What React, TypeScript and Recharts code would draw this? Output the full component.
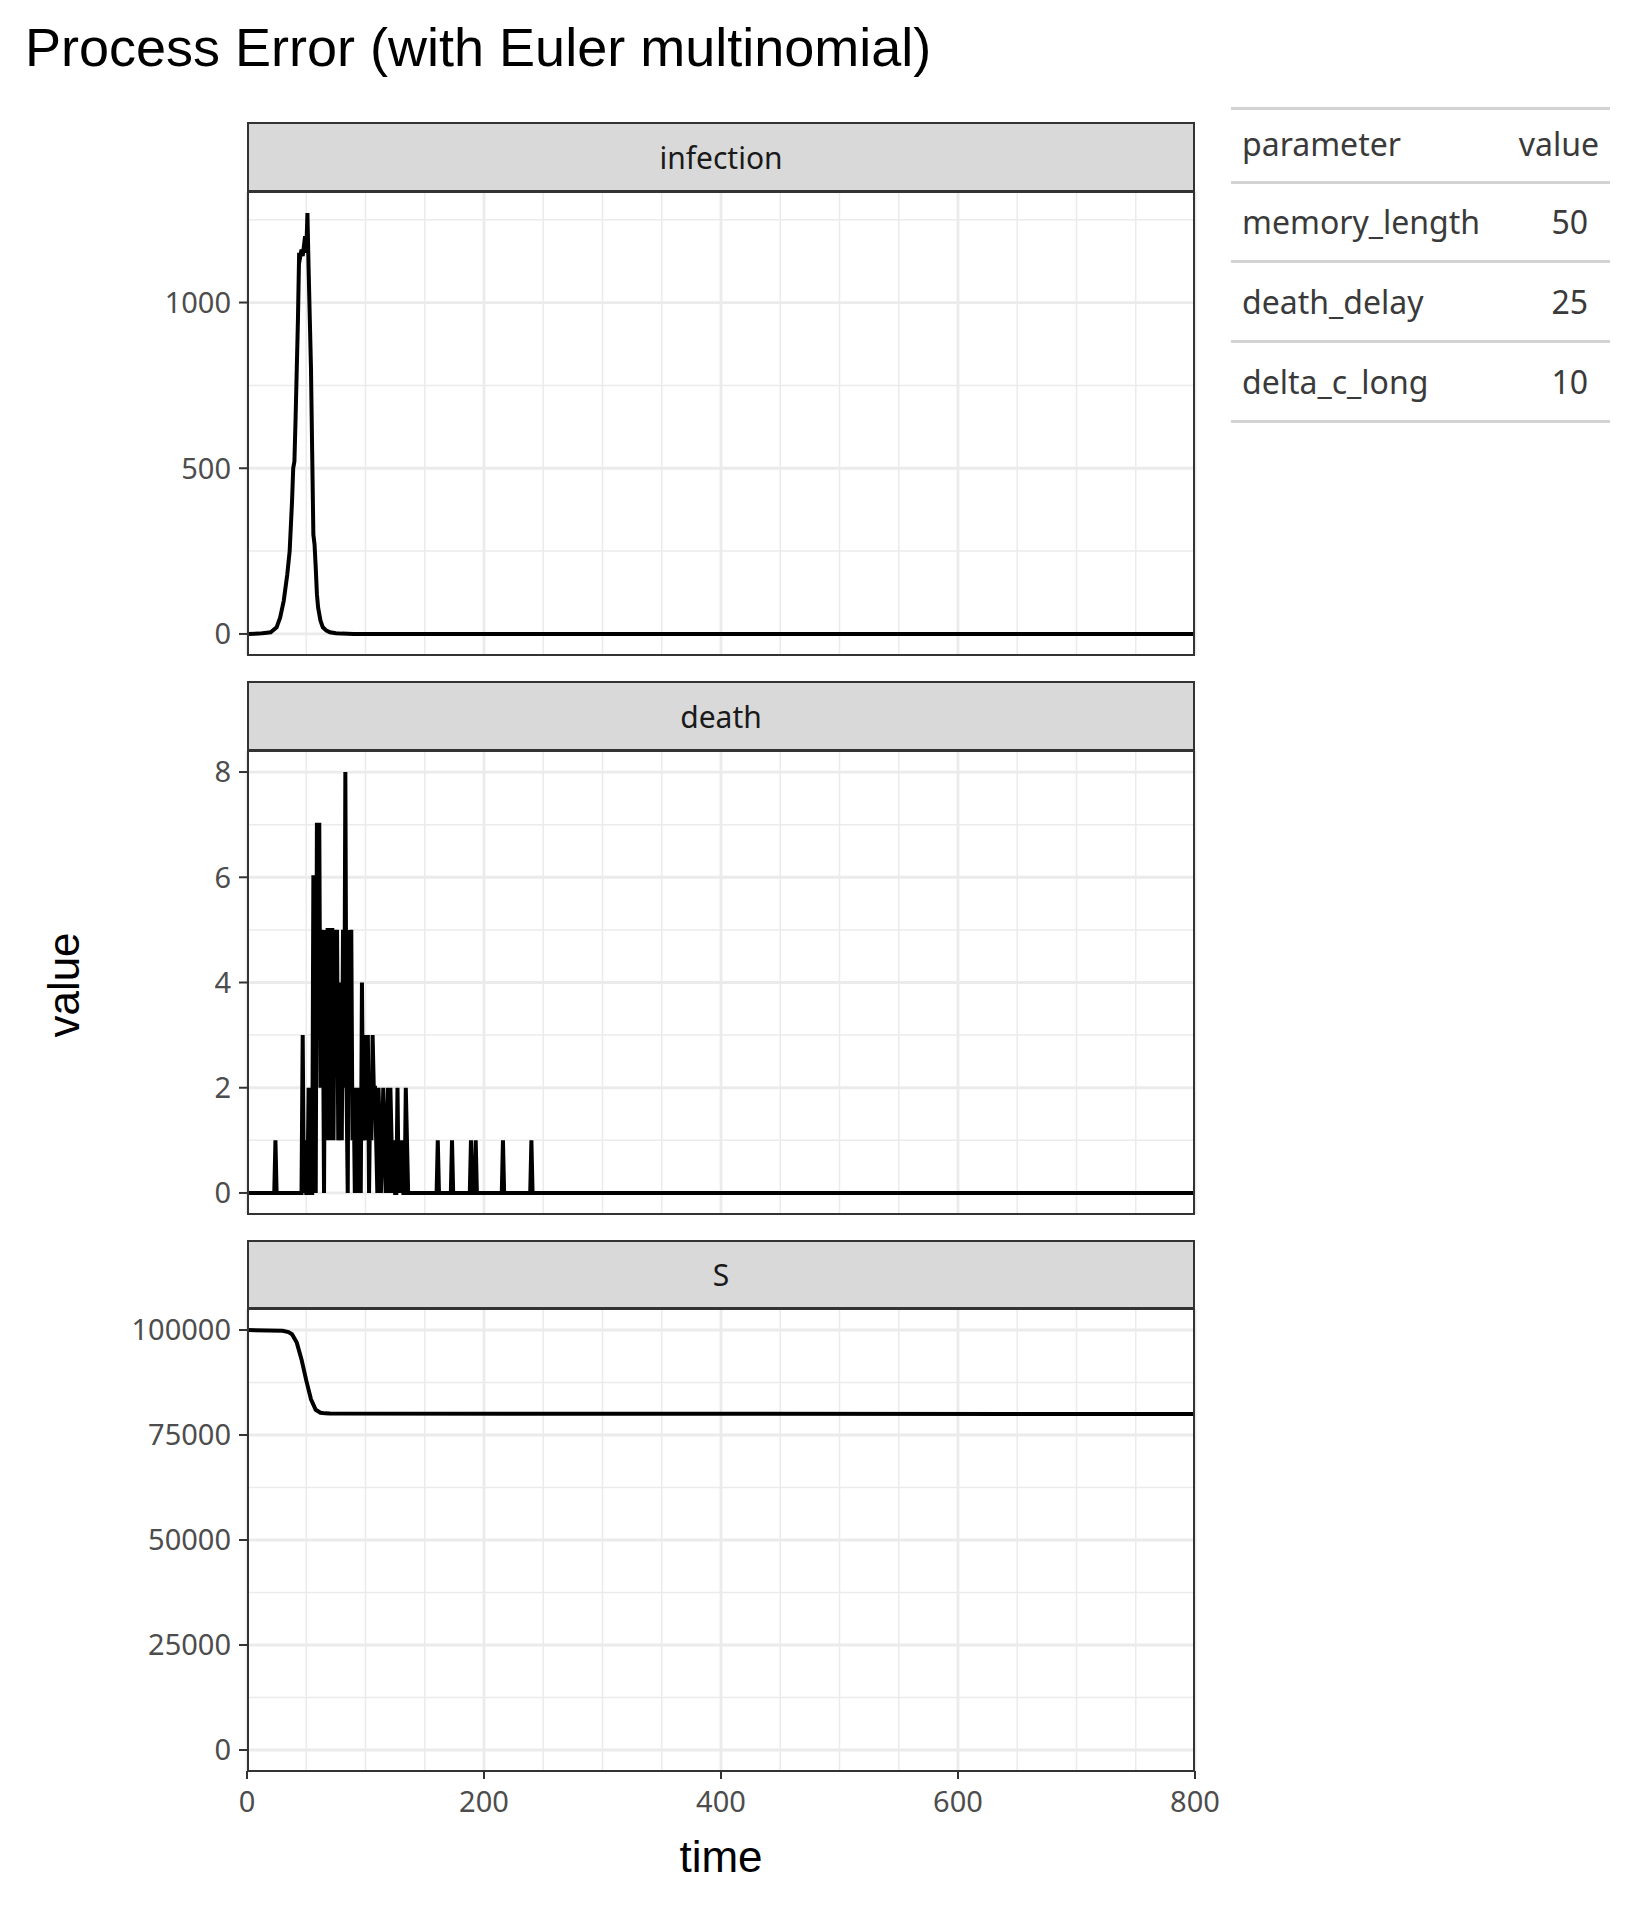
import { LineChart, Line, XAxis, YAxis, CartesianGrid } from 'recharts';

// infection (sparse points, linear between)
const infTime = [0, 10, 15, 20, 25, 28, 31, 34, 36, 38, 39, 40, 41, 42, 43, 44, 45, 46, 47, 48, 49, 50, 51, 52, 53, 54, 55, 56, 57, 58, 59, 60, 61, 62, 64, 67, 70, 75, 80, 90, 800];
const infValue = [0, 1, 3, 5, 20, 50, 100, 180, 250, 400, 500, 520, 650, 800, 950, 1150, 1140, 1160, 1140, 1170, 1200, 1150, 1270, 1100, 950, 800, 550, 300, 270, 200, 120, 80, 60, 40, 20, 10, 5, 2, 1, 0, 0];

// death: days with nonzero counts, every other day is 0
const deathDays = [24, 47, 49, 52, 56, 57, 59, 60, 61, 62, 63, 64, 66, 67, 68, 69, 70, 71, 72, 73, 74, 75, 76, 77, 78, 79, 80, 81, 82, 83, 84, 86, 87, 88, 89, 90, 92, 93, 95, 97, 98, 99, 100, 101, 102, 104, 105, 106, 107, 108, 109, 111, 112, 114, 115, 116, 118, 119, 121, 122, 124, 127, 129, 131, 134, 135, 161, 173, 189, 193, 216, 240];
const deathCounts = [1, 3, 1, 2, 6, 6, 7, 7, 7, 2, 5, 4, 5, 1, 5, 5, 1, 5, 5, 1, 5, 3, 5, 1, 2, 4, 1, 5, 2, 8, 2, 5, 3, 5, 1, 2, 2, 1, 2, 4, 1, 2, 3, 1, 3, 2, 1, 3, 2, 2, 1, 2, 1, 1, 2, 1, 1, 2, 2, 1, 1, 2, 1, 1, 2, 1, 1, 1, 1, 1, 1, 1];

// S
const sTime = [0, 30, 35, 38, 42, 46, 50, 54, 58, 62, 66, 70, 800];
const sValue = [100000, 99800, 99500, 99000, 97000, 93000, 88000, 83500, 81000, 80300, 80150, 80100, 80000];

const params = ['memory_length', 'death_delay', 'delta_c_long'];
const paramValues = [50, 25, 10];

const infData = infTime.map((t, i) => ({ time: t, value: infValue[i] }));
const deathData = Array.from({ length: 801 }, (_, t) => {
  const k = deathDays.indexOf(t);
  return { time: t, value: k >= 0 ? deathCounts[k] : 0 };
});
const sData = sTime.map((t, i) => ({ time: t, value: sValue[i] }));

const L = 247;
const R = 1195;
const EXTRA = 60;
const fontTick = '"Noto Sans", sans-serif';
const fontMain = '"Liberation Sans", Arial, sans-serif';
const xMinor = Array.from({ length: 17 }, (_, i) => i * 50);
const xMajor = [0, 200, 400, 600, 800];

type PanelProps = {
  name: string;
  data: { time: number; value: number }[];
  stripTop: number;
  top: number;
  bottom: number;
  domain: [number, number];
  major: number[];
  minor: number[];
  showX?: boolean;
};

function Panel({ name, data, stripTop, top, bottom, domain, major, minor, showX }: PanelProps) {
  const h = bottom - top;
  const xh = showX ? 100 : 0;
  return (
    <>
      <div style={{ position: 'absolute', left: L, top: stripTop, width: R - L, height: top - stripTop, background: '#d9d9d9', border: '2px solid #333', boxSizing: 'border-box', display: 'flex', alignItems: 'center', justifyContent: 'center', fontFamily: fontTick, fontSize: 30, color: '#1a1a1a' }}>
        {name}
      </div>
      <div style={{ position: 'absolute', left: 0, top }}>
        <LineChart width={R + EXTRA} height={h + xh} data={data} margin={{ top: 0, right: EXTRA, bottom: 0, left: L - 130 }}>
          <CartesianGrid stroke="#ebebeb" strokeWidth={1.5} horizontalValues={minor} verticalValues={xMinor} />
          <CartesianGrid stroke="#ebebeb" strokeWidth={2.8} horizontalValues={major} verticalValues={xMajor} />
          <XAxis dataKey="time" type="number" domain={[0, 800]} ticks={xMajor} hide={!showX} height={xh}
            axisLine={false} tickLine={{ stroke: '#333', strokeWidth: 2 }} tickSize={8}
            tick={{ fill: '#4d4d4d', fontSize: 29, fontFamily: fontTick, dy: 10 }} />
          <YAxis type="number" domain={domain} ticks={major} allowDataOverflow width={130}
            axisLine={false} tickLine={{ stroke: '#333', strokeWidth: 2 }} tickSize={8}
            tick={{ fill: '#4d4d4d', fontSize: 29, fontFamily: fontTick, dx: -6 }} />
          <Line dataKey="value" type="linear" stroke="#000" strokeWidth={4} dot={false} isAnimationActive={false} />
        </LineChart>
      </div>
      <div style={{ position: 'absolute', left: L, top: top - 1, width: R - L, height: h + 2, border: '2px solid #333', boxSizing: 'border-box', pointerEvents: 'none' }} />
    </>
  );
}

export default function App() {
  const rowY = [108, 182, 261, 341, 421];
  const cell = { position: 'absolute' as const, fontFamily: fontTick, fontSize: 32, color: '#3a3a3a' };
  return (
    <div style={{ position: 'absolute', left: 0, top: 0, width: 1637, height: 1924, background: '#fff', overflow: 'hidden' }}>
      <div style={{ position: 'absolute', left: 25, top: 16, fontFamily: fontMain, fontSize: 54, color: '#000' }}>
        Process Error (with Euler multinomial)
      </div>
      <Panel name="infection" data={infData} stripTop={122} top={192} bottom={655}
        domain={[-63.5, 1333.5]} major={[0, 500, 1000]} minor={[250, 750, 1250]} />
      <Panel name="death" data={deathData} stripTop={681} top={751} bottom={1214}
        domain={[-0.4, 8.4]} major={[0, 2, 4, 6, 8]} minor={[1, 3, 5, 7]} />
      <Panel name="S" data={sData} stripTop={1240} top={1309} bottom={1771}
        domain={[-5000, 105000]} major={[0, 25000, 50000, 75000, 100000]} minor={[12500, 37500, 62500, 87500]} showX />
      <div style={{ position: 'absolute', left: L, width: R - L, top: 1832, textAlign: 'center', fontFamily: fontMain, fontSize: 44 }}>time</div>
      <div style={{ position: 'absolute', left: 64, top: 985, transform: 'translate(-50%, -50%) rotate(-90deg)', fontFamily: fontMain, fontSize: 44 }}>value</div>
      {rowY.map((y, i) => (
        <div key={i} style={{ position: 'absolute', left: 1231, top: y - 1.5, width: 379, height: 3, background: '#d3d3d3' }} />
      ))}
      <div style={{ ...cell, left: 1242, top: 122 }}>parameter</div>
      <div style={{ ...cell, left: 1480, width: 119, top: 122, textAlign: 'right' }}>value</div>
      {params.map((p, i) => (
        <div key={p}>
          <div style={{ ...cell, left: 1242, top: 200 + i * 80 }}>{p}</div>
          <div style={{ ...cell, left: 1480, width: 108, top: 200 + i * 80, textAlign: 'right' }}>{paramValues[i]}</div>
        </div>
      ))}
    </div>
  );
}
